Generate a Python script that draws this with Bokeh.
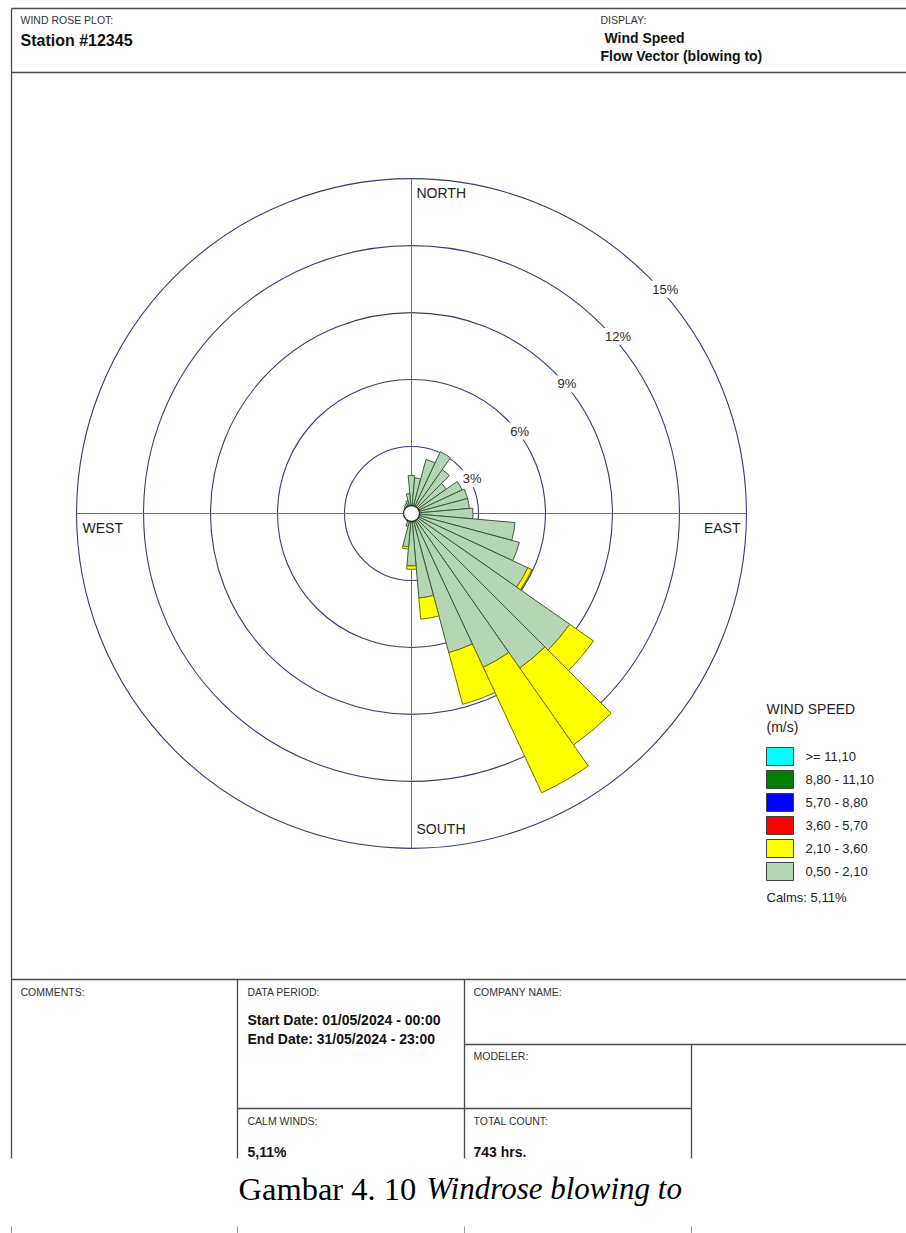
import numpy as np
from bokeh.plotting import figure
from bokeh.models import Range1d
from bokeh.embed import file_html
from bokeh.resources import INLINE
from bokeh.core.properties import value

# ---------------- data ----------------
directions = [0, 10, 20, 30, 40, 50, 60, 70, 80, 90, 100, 110, 120, 130, 140, 150, 160, 170,
              180, 190, 200, 210, 220, 230, 240, 250, 260, 270, 280, 290, 300, 310, 320, 330, 340, 350]
# frequency (%) of 0,50 - 2,10 m/s class per direction (blowing to)
speed_050_210 = [1.7, 1.6, 2.5, 3.05, 2.4, 1.9, 2.5, 2.6, 2.6, 2.75, 4.65, 5.0, 5.75, 8.65, 8.45, 7.6, 6.45, 3.8,
                 2.35, 1.5, 0.6, 0.4, 0.3, 0.3, 0.25, 0.25, 0.3, 0.3, 0.3, 0.3, 0.35, 0.4, 0.45, 0.5, 0.6, 0.9]
# frequency (%) of 2,10 - 3,60 m/s class per direction
speed_210_360 = [0, 0, 0, 0, 0, 0, 0, 0, 0, 0, 0, 0, 0.2, 1.3, 4.2, 6.2, 2.4, 0.95,
                 0.15, 0.1, 0, 0, 0, 0, 0, 0, 0, 0, 0, 0, 0, 0, 0, 0, 0, 0]
ring_values = [3, 6, 9, 12, 15]
ring_labels = ["3%", "6%", "9%", "12%", "15%"]
compass_labels = ["NORTH", "SOUTH", "WEST", "EAST"]
legend_labels = [">= 11,10", "8,80 - 11,10", "5,70 - 8,80", "3,60 - 5,70", "2,10 - 3,60", "0,50 - 2,10"]
legend_colors = ["#00ffff", "#008000", "#0000ff", "#ff0000", "#ffff00", "#b5d6b5"]
calms_text = "Calms: 5,11%"

# ---------------- page geometry (pixels -> data units, 1 unit = 1 %) ----------------
W, H = 906, 1233
CX, CY = 411, 513
S = 22.33


def X(px):
    return (px - CX) / S


def Y(py):
    return (CY - py) / S


p = figure(width=W, height=H, x_range=Range1d(X(0), X(W)), y_range=Range1d(Y(H), Y(0)),
           output_backend="svg", toolbar_location=None, min_border=0,
           x_axis_location=None, y_axis_location=None)
p.grid.visible = False
p.outline_line_color = None
p.background_fill_color = "white"
p.border_fill_color = "white"

SANS = value("Liberation Sans")
SERIF = value("Liberation Serif")


def txt(px, py, s, size, bold=False, align="left", baseline="middle", color="#1e1e1e",
        font=SANS, style=None):
    st = style if style else ("bold" if bold else "normal")
    p.text(x=[X(px)], y=[Y(py)], text=[s], text_font=font, text_font_size=f"{size}px",
           text_font_style=st, text_align=align, text_baseline=baseline, text_color=color)


def seg(x0, y0, x1, y1, color="#4a4a4a", w=1.3):
    p.segment(x0=[X(x0)], y0=[Y(y0)], x1=[X(x1)], y1=[Y(y1)], line_color=color, line_width=w)


# ---------------- frame ----------------
seg(11, 8, W, 8)
seg(11, 8, 11, 1158)
seg(11, 72, W, 72)
seg(11, 979, W, 979)
seg(237, 979, 237, 1158)
seg(464, 979, 464, 1158)
seg(691, 1044, 691, 1158)
seg(464, 1044, W, 1044)
seg(237, 1108, 691, 1108)
for tx in (11, 237, 464, 691):
    seg(tx, 1226, tx, 1233, color="#9a9a9a", w=1)

# header
txt(20, 19, "WIND ROSE PLOT:", 10.5, color="#333333")
txt(20, 40, "Station #12345", 16, bold=True, color="#111111")
txt(600, 19, "DISPLAY:", 10.5, color="#333333")
txt(604, 37, "Wind Speed", 14, bold=True, color="#111111")
txt(600, 55, "Flow Vector (blowing to)", 14, bold=True, color="#111111")

# table
txt(20, 991, "COMMENTS:", 10.5, color="#333333")
txt(247, 991, "DATA PERIOD:", 10.5, color="#333333")
txt(247, 1019, "Start Date: 01/05/2024 - 00:00", 14, bold=True, color="#111111")
txt(247, 1038, "End Date: 31/05/2024 - 23:00", 14, bold=True, color="#111111")
txt(473, 991, "COMPANY NAME:", 10.5, color="#333333")
txt(473, 1055, "MODELER:", 10.5, color="#333333")
txt(247, 1120, "CALM WINDS:", 10.5, color="#333333")
txt(247, 1151, "5,11%", 14, bold=True, color="#111111")
txt(473, 1120, "TOTAL COUNT:", 10.5, color="#333333")
txt(473, 1151, "743 hrs.", 14, bold=True, color="#111111")

# caption
txt(238, 1188, "Gambar 4. 10", 32.5, align="left", color="#000000", font=SERIF)
txt(426, 1188, "Windrose blowing to", 31, align="left", color="#000000", font=SERIF, style="italic")

# ---------------- rose ----------------
rmax = ring_values[-1]
p.circle(x=[0] * len(ring_values), y=[0] * len(ring_values), radius=ring_values,
         fill_color=None, line_color="#3a3a72", line_width=1.1)
p.segment(x0=[-rmax, 0], y0=[0, -rmax], x1=[rmax, 0], y1=[0, rmax],
          line_color="#6a6a9c", line_width=1)

d = np.array(directions, dtype=float)
g = np.array(speed_050_210)
yv = np.array(speed_210_360)
start = np.radians(90 - d - 5)
end = np.radians(90 - d + 5)

p.wedge(x=0, y=0, radius=g, start_angle=start, end_angle=end,
        fill_color="#b5d6b5", line_color="#3c5a3c", line_width=1)
m = yv > 0
p.annular_wedge(x=0, y=0, inner_radius=g[m], outer_radius=(g + yv)[m],
                start_angle=start[m], end_angle=end[m],
                fill_color="#ffff00", line_color="#6e6e00", line_width=1)

p.circle(x=[0], y=[0], radius=8 / S, fill_color="white", line_color="#2a2a2a", line_width=1.3)

# ring labels along 45 degrees
c45 = np.cos(np.radians(45))
rv = np.array(ring_values, dtype=float)
p.text(x=rv * c45 + 3 / S, y=rv * c45 - 4 / S, text=ring_labels, text_font=SANS,
       text_font_size="13px", text_align="left", text_baseline="top", text_color="#2a2a2a",
       background_fill_color="white", padding=1)

# compass labels
txt(416, 192, compass_labels[0], 14, color="#222222")
txt(416, 828, compass_labels[1], 14, color="#222222")
txt(82, 527, compass_labels[2], 14, color="#222222")
txt(740, 527, compass_labels[3], 14, align="right", color="#222222")

# ---------------- legend ----------------
txt(766, 708, "WIND SPEED", 14, color="#222222")
txt(766, 726, "(m/s)", 14, color="#222222")
for i, (lab, col) in enumerate(zip(legend_labels, legend_colors)):
    top = 747 + 23 * i
    p.quad(left=[X(766)], right=[X(793)], top=[Y(top)], bottom=[Y(top + 18)],
           fill_color=col, line_color="#404040", line_width=1)
    txt(805, top + 9, lab, 13, color="#222222")
txt(766, 897, calms_text, 13, color="#222222")

open("out.html", "w").write(file_html(p, INLINE))
